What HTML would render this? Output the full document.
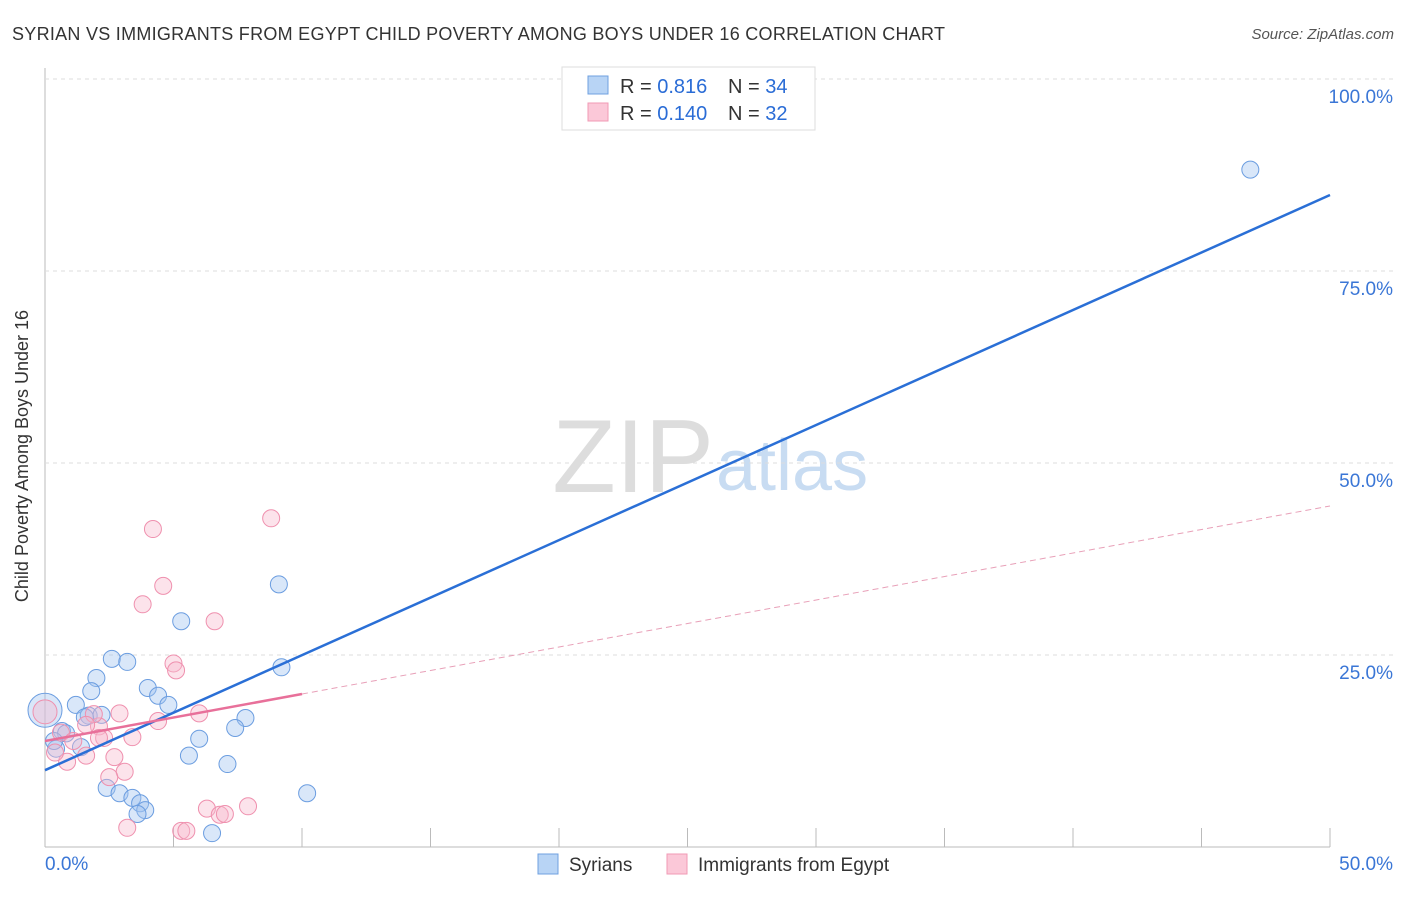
<!DOCTYPE html>
<html><head><meta charset="utf-8"><style>
body{margin:0;background:#fff;font-family:"Liberation Sans",sans-serif;}
svg text{font-family:"Liberation Sans",sans-serif;}
</style></head><body>
<svg id="c" width="1406" height="892">
<text x="12" y="40" font-size="18" fill="#333" textLength="933">SYRIAN VS IMMIGRANTS FROM EGYPT CHILD POVERTY AMONG BOYS UNDER 16 CORRELATION CHART</text>
<text x="1394" y="39" font-size="15" fill="#555" font-style="italic" text-anchor="end">Source: ZipAtlas.com</text>
<text x="714" y="492" font-size="104" fill="#ddd" text-anchor="end" font-family="Liberation Serif">ZIP</text>
<text x="716" y="490" font-size="72" fill="#c8dcf2">atlas</text>
<text x="28" y="456" font-size="18" fill="#333" text-anchor="middle" transform="rotate(-90 28 456)">Child Poverty Among Boys Under 16</text>
<g id="grid"></g><g id="pts"></g><g id="lines"></g>
<g>
<rect x="562" y="67" width="253" height="63" fill="#fff" stroke="#ddd"/>
<rect x="588" y="76" width="20" height="18" fill="#b8d4f5" stroke="#6fa0e0"/>
<rect x="588" y="103" width="20" height="18" fill="#fbc8d8" stroke="#f09ab5"/>
<text x="620" y="93" font-size="20" fill="#333">R = <tspan fill="#2a6cd6">0.816</tspan></text>
<text x="728" y="93" font-size="20" fill="#333">N = <tspan fill="#2a6cd6">34</tspan></text>
<text x="620" y="120" font-size="20" fill="#333">R = <tspan fill="#2a6cd6">0.140</tspan></text>
<text x="728" y="120" font-size="20" fill="#333">N = <tspan fill="#2a6cd6">32</tspan></text>
</g>
<g>
<rect x="538" y="854" width="20" height="20" fill="#b8d4f5" stroke="#6fa0e0"/>
<text x="569" y="871" font-size="19" fill="#333">Syrians</text>
<rect x="667" y="854" width="20" height="20" fill="#fbc8d8" stroke="#f09ab5"/>
<text x="698" y="871" font-size="19" fill="#333">Immigrants from Egypt</text>
</g>
</svg>
<script>
const xTickVals=[0,50];
const yTickVals=[25,50,75,100];
const blueX=[46.9,9.1,5.3,2.6,3.2,9.2,2.0,1.8,4.0,4.4,4.8,1.2,1.7,2.2,7.8,7.4,6.0,5.6,7.1,0.66,0.82,1.4,0.43,2.4,2.9,3.4,3.7,3.9,3.6,10.2,6.5,0.0,0.35,1.55];
const blueY=[88.2,34.2,29.4,24.5,24.1,23.4,22.0,20.3,20.7,19.7,18.5,18.5,17.1,17.2,16.8,15.5,14.1,11.9,10.8,15.1,14.8,13.0,12.8,7.7,7.0,6.4,5.7,4.8,4.3,7.0,1.8,17.8,13.8,16.9];
const pinkX=[4.2,8.8,4.6,3.8,6.6,5.0,5.1,6.0,4.4,2.1,2.9,1.9,3.4,1.6,0.62,2.3,2.7,3.1,2.5,1.6,0.86,0.39,0.0,5.3,5.5,3.2,6.3,6.8,7.0,7.9,2.1,1.1];
const pinkY=[41.4,42.8,34.0,31.6,29.4,23.9,23.0,17.4,16.4,15.7,17.4,17.3,14.3,15.9,14.9,14.2,11.7,9.8,9.1,11.9,11.1,12.3,17.6,2.1,2.1,2.5,5.0,4.2,4.3,5.3,14.2,13.8];
const blueLine=[10.0,84.9];
const pinkLine=[13.8,44.4];
const pinkSolidEnd=10;
const X=v=>45+v/50*1285, Y=v=>847-v/100*768;
const NS="http://www.w3.org/2000/svg";
function mk(t,a,p){const e=document.createElementNS(NS,t);for(const k in a)e.setAttribute(k,a[k]);p.appendChild(e);return e;}
const grid=document.getElementById('grid');
mk('line',{x1:45,y1:68,x2:45,y2:847,stroke:'#bbb'},grid);
mk('line',{x1:45,y1:847,x2:1330,y2:847,stroke:'#bbb'},grid);
for(let i=1;i<=10;i++){mk('line',{x1:X(i*5),y1:828,x2:X(i*5),y2:847,stroke:'#bbb'},grid);}
mk('line',{x1:45,y1:Y(100),x2:1394,y2:Y(100),stroke:'#ddd','stroke-dasharray':'4 4'},grid);
yTickVals.forEach(v=>{
 mk('line',{x1:45,y1:Y(v),x2:1394,y2:Y(v),stroke:'#ddd','stroke-dasharray':'4 4'},grid);
 const t=mk('text',{x:1393,y:Y(v)+24,'font-size':19,fill:'#3a76d6','text-anchor':'end'},grid);
 
 
 t.textContent=v.toFixed(1)+'%';
});
xTickVals.forEach((v,i)=>{
 const t=mk('text',{x:i?1393:45,y:870,'font-size':19,fill:'#3a76d6','text-anchor':i?'end':'start'},grid);
 
 
 t.textContent=v.toFixed(1)+'%';
});
const pts=document.getElementById('pts');
blueX.forEach((v,i)=>{
 const c=mk('circle',{cx:X(v),cy:Y(blueY[i]),r:i==31?17:8.5,fill:'rgba(160,195,240,0.4)',stroke:'#6b9de0','stroke-width':1},pts);
 
 
});
pinkX.forEach((v,i)=>{
 const c=mk('circle',{cx:X(v),cy:Y(pinkY[i]),r:i==22?12:8.5,fill:'rgba(248,185,205,0.4)',stroke:'#ef90ae','stroke-width':1},pts);
 
 
});
const lines=document.getElementById('lines');
const bl=mk('line',{x1:X(0),y1:Y(blueLine[0]),x2:X(50),y2:Y(blueLine[1]),stroke:'#2a6fd6','stroke-width':2.5},lines);


const pAt=v=>pinkLine[0]+(pinkLine[1]-pinkLine[0])*v/50;
const ps=mk('line',{x1:X(0),y1:Y(pAt(0)),x2:X(pinkSolidEnd),y2:Y(pAt(pinkSolidEnd)),stroke:'#e8709a','stroke-width':2.5},lines);


const pd=mk('line',{x1:X(pinkSolidEnd),y1:Y(pAt(pinkSolidEnd)),x2:X(50),y2:Y(pAt(50)),stroke:'#e8a0b8','stroke-width':1,'stroke-dasharray':'6 4'},lines);


</script>
</body></html>
